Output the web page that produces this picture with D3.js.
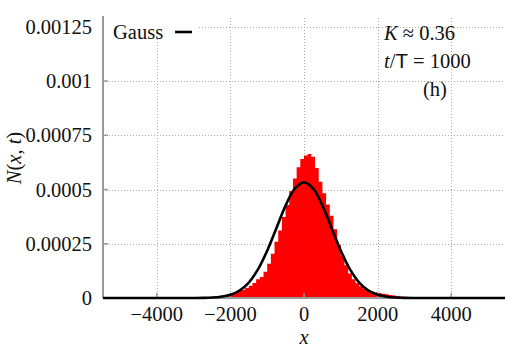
<!DOCTYPE html>
<html lang="en">
<head>
<meta charset="UTF-8"/>
<title>N(x,t) histogram</title>
<script src="https://d3js.org/d3.v7.min.js"></script>
<style>
	body { margin: 0; background: #fff; }
	text { font-family: "Liberation Serif", "DejaVu Serif", serif; fill: #111; }
</style>
</head>
<body>
<div id="chart"></div>
<script>
	var w = 532;
	var h = 351;
	var margin = {top: 16, right: 27, bottom: 53, left: 103};

	// histogram bins (left edge, width 100), heights in units of 1e-6
	var binStart = -3000;
	var binWidth = 100;
	var histValues = [
		2, 3, 3, 4, 5, 6, 8, 10, 13, 17,
		21, 26, 32, 38, 46, 56, 69, 86, 97, 121,
		158, 204, 259, 311, 373, 429, 493, 551, 603, 641,
		657, 664, 651, 599, 536, 483, 431, 379, 317, 243,
		196, 151, 113, 86, 68, 54, 43, 36, 31, 27,
		23, 20, 17, 14, 11, 9, 7, 5, 4, 2
	];

	// Gauss curve, units of 1e-6
	var gaussX = [-5460, -3500, -3000, -2750, -2500, -2250, -2000, -1750, -1500, -1250, -1000, -750, -500, -250,
		0, 250, 500, 750, 1000, 1250, 1500, 1750, 2000, 2250, 2500, 2750, 3000, 3500, 5460];
	var gaussY = [0, 0, 0.2, 0.6, 2, 5.8, 14.9, 34.5, 71.4, 132, 218, 322, 426, 504,
		533, 504, 426, 322, 218, 132, 71.4, 34.5, 14.9, 5.8, 2, 0.6, 0.2, 0, 0];

	var xTicks = [-4000, -2000, 0, 2000, 4000];
	var xTickLabels = ["\u22124000", "\u22122000", "0", "2000", "4000"];
	var yTicks = [0, 0.00025, 0.0005, 0.00075, 0.001, 0.00125];
	var yTickLabels = ["0", "0.00025", "0.0005", "0.00075", "0.001", "0.00125"];

	var x = d3.scaleLinear().domain([-5460, 5460]).range([margin.left, w - margin.right]);
	var y = d3.scaleLinear().domain([0, 0.0013]).range([h - margin.bottom, margin.top]);

	var svg = d3.select("#chart").append("svg")
		.attr("width", w)
		.attr("height", h);

	// grid
	svg.append("g").selectAll("line")
		.data(xTicks)
		.enter()
		.append("line")
		.attr("x1", function (d) { return Math.round(x(d)) + 0.5; })
		.attr("x2", function (d) { return Math.round(x(d)) + 0.5; })
		.attr("y1", y(0))
		.attr("y2", margin.top)
		.attr("stroke", "#aaa")
		.attr("stroke-width", 1)
		.attr("stroke-dasharray", "1,2");

	svg.append("g").selectAll("line")
		.data(yTicks.slice(1))
		.enter()
		.append("line")
		.attr("x1", margin.left)
		.attr("x2", w - margin.right)
		.attr("y1", function (d) { return Math.round(y(d)) + 0.5; })
		.attr("y2", function (d) { return Math.round(y(d)) + 0.5; })
		.attr("stroke", "#aaa")
		.attr("stroke-width", 1)
		.attr("stroke-dasharray", "1,2");

	// histogram as one stepped area (no seams between bins)
	var histPts = histValues.map(function (d, i) { return [binStart + i * binWidth, d]; });
	histPts.push([binStart + histValues.length * binWidth, 0]);
	var area = d3.area()
		.x(function (d) { return x(d[0]); })
		.y0(y(0))
		.y1(function (d) { return y(d[1] * 1e-6); })
		.curve(d3.curveStepAfter);

	svg.append("path")
		.datum(histPts)
		.attr("d", area)
		.attr("fill", "#ff0000");

	// axes (left and bottom, grey)
	svg.append("line")
		.attr("x1", margin.left).attr("x2", margin.left)
		.attr("y1", margin.top).attr("y2", y(0))
		.attr("stroke", "#999").attr("stroke-width", 2);
	svg.append("line")
		.attr("x1", margin.left).attr("x2", w - margin.right)
		.attr("y1", y(0)).attr("y2", y(0))
		.attr("stroke", "#999").attr("stroke-width", 2);

	svg.append("g").selectAll("line")
		.data(yTicks)
		.enter()
		.append("line")
		.attr("x1", margin.left).attr("x2", margin.left + 5)
		.attr("y1", function (d) { return y(d); })
		.attr("y2", function (d) { return y(d); })
		.attr("stroke", "#999").attr("stroke-width", 1.5);

	svg.append("g").selectAll("line")
		.data(xTicks)
		.enter()
		.append("line")
		.attr("x1", function (d) { return x(d); })
		.attr("x2", function (d) { return x(d); })
		.attr("y1", y(0)).attr("y2", y(0) - 5)
		.attr("stroke", "#999").attr("stroke-width", 1.5);

	// Gauss curve
	var line = d3.line()
		.x(function (d, i) { return x(gaussX[i]); })
		.y(function (d) { return y(d * 1e-6); })
		.curve(d3.curveCatmullRom);

	svg.append("path")
		.datum(gaussY)
		.attr("d", line)
		.attr("fill", "none")
		.attr("stroke", "#000")
		.attr("stroke-width", 2.6);

	// tick labels
	svg.append("g").selectAll("text")
		.data(yTicks)
		.enter()
		.append("text")
		.attr("x", 92)
		.attr("y", function (d) { return y(d); })
		.attr("dy", "0.35em")
		.attr("text-anchor", "end")
		.attr("font-size", "20.5px")
		.text(function (d, i) { return yTickLabels[i]; });

	svg.append("g").selectAll("text")
		.data(xTicks)
		.enter()
		.append("text")
		.attr("x", function (d) { return x(d); })
		.attr("y", 321)
		.attr("text-anchor", "middle")
		.attr("font-size", "20.5px")
		.text(function (d, i) { return xTickLabels[i]; });

	// axis titles
	svg.append("text")
		.attr("x", x(0))
		.attr("y", 344)
		.attr("text-anchor", "middle")
		.attr("font-size", "20.5px")
		.attr("font-style", "italic")
		.text("x");

	svg.append("text")
		.attr("transform", "translate(21,158) rotate(-90)")
		.attr("text-anchor", "middle")
		.attr("font-size", "20.5px")
		.html('<tspan font-style="italic">N</tspan>(<tspan font-style="italic">x</tspan>, <tspan font-style="italic">t</tspan>)');

	// legend
	svg.append("rect")
		.attr("x", margin.left + 1).attr("y", margin.top)
		.attr("width", 95).attr("height", 19)
		.attr("fill", "#fff");
	svg.append("text")
		.attr("x", 113).attr("y", 39)
		.attr("font-size", "20.5px")
		.text("Gauss");
	svg.append("line")
		.attr("x1", 175).attr("x2", 192)
		.attr("y1", 32).attr("y2", 32)
		.attr("stroke", "#000").attr("stroke-width", 2.6);

	// annotation
	svg.append("text")
		.attr("x", 384).attr("y", 40)
		.attr("font-size", "20.5px")
		.html('<tspan font-style="italic">K</tspan> \u2248 0.36');
	svg.append("text")
		.attr("x", 384).attr("y", 68)
		.attr("font-size", "20.5px")
		.html('<tspan font-style="italic">t</tspan>/<tspan style="font-family: \'Liberation Sans\', sans-serif">T</tspan> = 1000');
	svg.append("text")
		.attr("x", 423).attr("y", 96)
		.attr("font-size", "20.5px")
		.text("(h)");
</script>
</body>
</html>
